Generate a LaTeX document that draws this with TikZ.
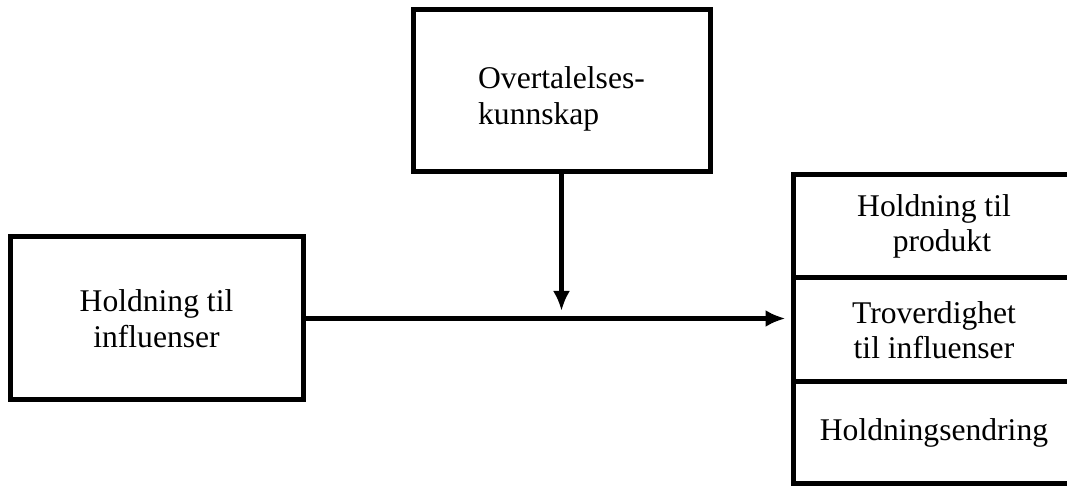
\documentclass[tikz,border=0pt]{standalone}
\usepackage{fontspec}
\setmainfont{Liberation Serif}
\usetikzlibrary{arrows.meta}

\begin{document}
\begin{tikzpicture}[x=0.5pt, y=-0.5pt,
    box/.style={draw, line width=2.5pt, inner sep=0pt, align=center, font=\fontsize{15.8}{17.8}\selectfont},
    link/.style={line width=2.5pt, -{Latex[length=10pt,width=8.5pt]}}]
			%%%%% START %%%%%
			
			\clip (0,0) rectangle (1067,486);
			
			\node[box, align=left, minimum width=148.5pt, minimum height=81pt] (kunnskap) at (561.5,91) {\rule{0pt}{19pt}Overtalelses-\\kunnskap};
			\node[box, minimum width=146.5pt, minimum height=81.5pt] (holdning) at (156.5,318.5) {Holdning til\\influenser};
			
			\node[box, minimum width=141pt, minimum height=51.5pt] (produkt) at (934,226.5) {Holdning til\\\ \ produkt};
			\node[box, minimum width=141pt, minimum height=52pt] (troverdighet) at (934,330) {Troverdighet\\til influenser};
			\node[box, minimum width=141pt, minimum height=51pt] (endring) at (934,433) {Holdningsendring};
			
			\coordinate (moderator) at (561.5,311);
			
			\draw[link] (kunnskap) -- (moderator);
			\draw[link, shorten >=2.5pt] (holdning) -- (holdning -| troverdighet.west);
			
			%%%%% END %%%%%
\end{tikzpicture}
\end{document}
